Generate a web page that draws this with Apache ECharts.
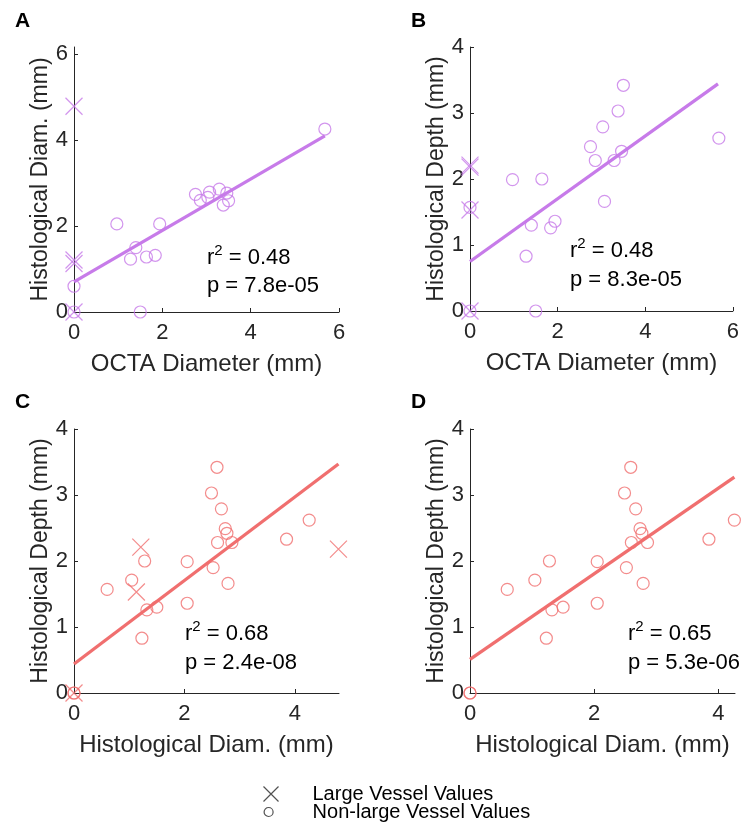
<!DOCTYPE html>
<html><head><meta charset="utf-8">
<script src="https://cdn.jsdelivr.net/npm/echarts@6/dist/echarts.min.js"></script>
<style>html,body{margin:0;padding:0;background:#fff}#c{width:742px;height:834px}</style>
</head><body><div id="c"></div>
<script>
// Non-large vessels (null = not measured)
const octaDiam  = [0, 0, 1.50, 0.97, 1.64, 1.40, 1.28, 1.84, 1.94, null, 3.38, 3.50, null, 3.03, 2.86, 2.75, 3.46, 3.29, 3.07, null, 5.68];
const histDiam  = [0.60, 0, 0, 2.05, 1.28, 1.50, 1.23, 1.32, 2.05, 1.045, 2.49, 2.59, 2.52, 2.67, 2.60, 2.74, 2.77, 2.86, 2.79, 3.85, 4.26];
const histDepth = [1.57, 0, 0, 1.99, 2.00, 1.30, 0.83, 1.26, 1.36, 1.71, 3.03, 3.42, 1.90, 2.79, 2.28, 2.49, 2.42, 2.28, 1.66, 2.33, 2.62];
// Large vessels
const largeOcta      = [0, 0, 0, 0];
const largeHistDiam  = [4.79, 1.21, 1.13, 0];
const largeHistDepth = [2.18, 2.21, 1.53, 0];
// Regression line end points
const fitAx = [0, 5.68], fitAy = [0.70, 4.10];
const fitBx = [0, 5.66], fitBy = [0.75, 3.44];
const fitCx = [0, 4.79], fitCy = [0.44, 3.47];
const fitDx = [0, 4.26], fitDy = [0.51, 3.27];
// Stats
const r2Vals = ['0.48', '0.48', '0.68', '0.65'];
const pVals  = ['7.8e-05', '8.3e-05', '2.4e-08', '5.3e-06'];
const panelLetters = ['A', 'B', 'C', 'D'];
// Ticks
const ticksAB_x = [0, 2, 4, 6];
const ticksA_y  = [0, 2, 4, 6];
const ticksBCD_y = [0, 1, 2, 3, 4];
const ticksCD_x = [0, 2, 4];

const FONT = 'Liberation Sans, Arial, Helvetica, sans-serif';
const PURPLE = '#c77be9';
const RED = '#f06f6f';
const AX = '#262626';

function pairs(xs, ys) {
  const out = [];
  for (let i = 0; i < xs.length; i++) {
    if (xs[i] == null || ys[i] == null) continue;
    out.push([xs[i], ys[i]]);
  }
  return out;
}
function axis(gridIndex, min, max, ticks, name, gap, isY) {
  return {
    type: 'value', gridIndex, min, max, name,
    nameLocation: 'middle', nameGap: gap,
    nameTextStyle: { fontFamily: FONT, fontSize: isY ? 23 : 24, color: AX },
    axisLine: { show: true, onZero: false, lineStyle: { color: AX, width: 1 } },
    axisTick: { show: true, inside: true, length: 4, customValues: ticks, lineStyle: { color: AX } },
    axisLabel: { customValues: ticks, fontFamily: FONT, fontSize: 22, color: AX, margin: isY ? 6 : 10 },
    splitLine: { show: false }
  };
}
const X_SYM = 'path://M0,0L10,10M10,0L0,10';
function circles(gi, data, color) {
  return { name: 'Non-large Vessel Values', type: 'scatter', xAxisIndex: gi, yAxisIndex: gi, data, clip: false,
    symbol: 'circle', symbolSize: 12, z: 3,
    itemStyle: { color: 'rgba(0,0,0,0)', borderColor: color, borderWidth: 1.2 } };
}
function crosses(gi, data, color) {
  return { name: 'Large Vessel Values', type: 'scatter', xAxisIndex: gi, yAxisIndex: gi, data, clip: false,
    symbol: X_SYM, symbolSize: 17, z: 3,
    itemStyle: { color: 'none', borderColor: color, borderWidth: 1.2 } };
}
function fit(gi, xs, ys, color) {
  return { type: 'line', xAxisIndex: gi, yAxisIndex: gi, data: pairs(xs, ys), clip: false,
    showSymbol: false, symbol: 'none', z: 2, lineStyle: { color, width: 3.3 }, silent: true };
}

const grids = [
  { left: 74, top: 47, width: 265, height: 265 },
  { left: 470, top: 47, width: 264, height: 264 },
  { left: 74, top: 429, width: 265, height: 264 },
  { left: 470, top: 429, width: 265, height: 264 }
];
const statPos = [[207, 258, 286], [570, 251, 280], [185, 634, 663], [628, 634, 663]];
const letterPos = [[15, 21], [411, 21], [15, 402], [411, 402]];

const graphic = [];
for (let i = 0; i < 4; i++) {
  graphic.push({ type: 'text', x: letterPos[i][0], y: letterPos[i][1],
    style: { text: panelLetters[i], font: 'bold 21px ' + FONT, fill: '#000', verticalAlign: 'middle' } });
  graphic.push({ type: 'text', x: statPos[i][0], y: statPos[i][1],
    style: { text: '{a|r}{b|2}{a| = ' + r2Vals[i] + '}', verticalAlign: 'middle', fill: '#000',
      rich: { a: { fontFamily: FONT, fontSize: 22, fill: '#000', lineHeight: 26 },
              b: { fontFamily: FONT, fontSize: 15, fill: '#000', lineHeight: 26, padding: [0, 0, 14, 0] } } } });
  graphic.push({ type: 'text', x: statPos[i][0], y: statPos[i][2],
    style: { text: 'p = ' + pVals[i], font: '22px ' + FONT, fill: '#000', verticalAlign: 'middle' } });
}

const option = {
  animation: false,
  backgroundColor: '#fff',
  grid: grids,
  xAxis: [
    axis(0, 0, 6, ticksAB_x, 'OCTA Diameter (mm)', 40, false),
    axis(1, 0, 6, ticksAB_x, 'OCTA Diameter (mm)', 40, false),
    axis(2, 0, 4.8, ticksCD_x, 'Histological Diam. (mm)', 40, false),
    axis(3, 0, 4.27, ticksCD_x, 'Histological Diam. (mm)', 40, false)
  ],
  yAxis: [
    axis(0, 0, 6.17, ticksA_y, 'Histological Diam. (mm)', 20, true),
    axis(1, 0, 4, ticksBCD_y, 'Histological Depth (mm)', 20, true),
    axis(2, 0, 4, ticksBCD_y, 'Histological Depth (mm)', 20, true),
    axis(3, 0, 4, ticksBCD_y, 'Histological Depth (mm)', 20, true)
  ],
  legend: [
    { left: 261, top: 784, padding: 0, itemWidth: 15, itemHeight: 15, itemGap: 0,
      textStyle: { fontFamily: FONT, fontSize: 20, color: '#000', padding: [0, 0, 0, 29] },
      data: [{ name: 'Large Vessel Values', icon: X_SYM,
        itemStyle: { color: 'none', borderColor: AX, borderWidth: 1.2 } }], selectedMode: false },
    { left: 263.5, top: 802, padding: 0, itemWidth: 9, itemHeight: 9, itemGap: 0,
      textStyle: { fontFamily: FONT, fontSize: 20, color: '#000', padding: [0, 0, 0, 34.5] },
      data: [{ name: 'Non-large Vessel Values', icon: 'circle',
        itemStyle: { color: 'rgba(0,0,0,0)', borderColor: AX, borderWidth: 1.2 } }], selectedMode: false }
  ],
  graphic,
  series: [
    fit(0, fitAx, fitAy, PURPLE),
    circles(0, pairs(octaDiam, histDiam), PURPLE),
    crosses(0, pairs(largeOcta, largeHistDiam), PURPLE),
    fit(1, fitBx, fitBy, PURPLE),
    circles(1, pairs(octaDiam, histDepth), PURPLE),
    crosses(1, pairs(largeOcta, largeHistDepth), PURPLE),
    fit(2, fitCx, fitCy, RED),
    circles(2, pairs(histDiam, histDepth), RED),
    crosses(2, pairs(largeHistDiam, largeHistDepth), RED),
    fit(3, fitDx, fitDy, RED),
    circles(3, pairs(histDiam, histDepth), RED)
  ]
};
const chart = echarts.init(document.getElementById('c'), null, { renderer: 'canvas' });
chart.setOption(option);
</script></body></html>
